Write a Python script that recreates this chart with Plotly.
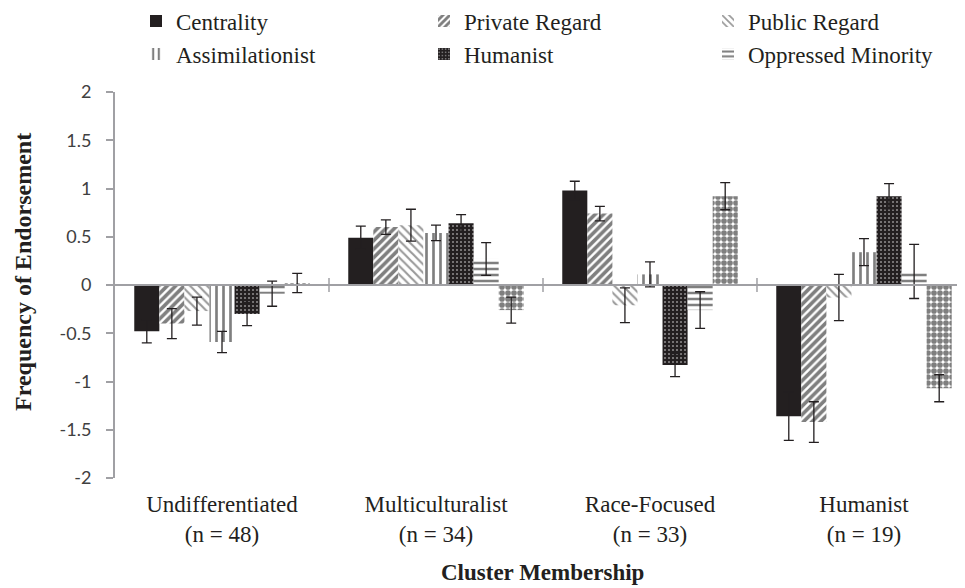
import plotly.graph_objects as go

# ---------------- data ----------------
categories = ["Undifferentiated<br>(n = 48)", "Multiculturalist<br>(n = 34)",
              "Race-Focused<br>(n = 33)", "Humanist<br>(n = 19)"]

centrality = [-0.48, 0.49, 0.98, -1.36]
centrality_err = [0.12, 0.12, 0.095, 0.25]
private_regard = [-0.40, 0.60, 0.74, -1.42]
private_regard_err = [0.155, 0.075, 0.075, 0.21]
public_regard = [-0.27, 0.62, -0.21, -0.13]
public_regard_err = [0.145, 0.165, 0.18, 0.24]
assimilationist = [-0.59, 0.54, 0.11, 0.34]
assimilationist_err = [0.11, 0.08, 0.13, 0.14]
humanist = [-0.30, 0.64, -0.83, 0.92]
humanist_err = [0.12, 0.09, 0.12, 0.13]
oppressed_minority = [-0.09, 0.27, -0.26, 0.14]
oppressed_minority_err = [0.13, 0.17, 0.19, 0.28]
nationalist = [0.02, -0.26, 0.92, -1.07]
nationalist_err = [0.10, 0.135, 0.14, 0.14]

y_tickvals = [-2, -1.5, -1, -0.5, 0, 0.5, 1, 1.5, 2]
y_ticktext = ["-2", "-1.5", "-1", "-0.5", "0", "0.5", "1", "1.5", "2"]

# ---------------- style ----------------
INK = "#231f20"
AXIS = "#a0a0a4"
SERIF = "Liberation Serif"

series = [
    ("Centrality", centrality, centrality_err,
     dict(shape="", fgcolor=INK, bgcolor=INK), "legend"),
    ("Private Regard", private_regard, private_regard_err,
     dict(shape="/", fgcolor="black", bgcolor="white", size=6, solidity=0.6), "legend2"),
    ("Public Regard", public_regard, public_regard_err,
     dict(shape="\\", fgcolor="#333333", bgcolor="white", size=6, solidity=0.35), "legend3"),
    ("Assimilationist", assimilationist, assimilationist_err,
     dict(shape="|", fgcolor="black", bgcolor="white", size=7, solidity=0.38), "legend4"),
    ("Humanist", humanist, humanist_err,
     dict(shape=".", fgcolor="white", bgcolor=INK, size=4, solidity=0.2), "legend5"),
    ("Oppressed Minority", oppressed_minority, oppressed_minority_err,
     dict(shape="-", fgcolor="black", bgcolor="white", size=6, solidity=0.42), "legend6"),
    ("Nationalist", nationalist, nationalist_err,
     dict(shape=".", fgcolor="black", bgcolor="white", size=6, solidity=0.7), None),
]

fig = go.Figure()
for name, vals, errs, pat, leg in series:
    fig.add_trace(go.Bar(
        x=categories, y=vals, name=name,
        marker=dict(color=pat["bgcolor"] if pat["shape"] else INK,
                    line=dict(width=0), pattern=pat),
        error_y=dict(type="data", array=errs, visible=True,
                     color=INK, thickness=1.3, width=5),
        showlegend=leg is not None,
        legend=leg if leg else "legend",
    ))

# The page body has an 8px default margin; lay the figure out in page pixels.
PAGE_OFF = 8
W, H = 965 - PAGE_OFF, 588 - PAGE_OFF
PLOT_L, PLOT_T, PLOT_B = 115, 92, 478          # page pixels
ML = PLOT_L - PAGE_OFF
MT = PLOT_T - PAGE_OFF
MB = H - (PLOT_B - PAGE_OFF)
PW = W - ML
PH = H - MT - MB

def px_x(px):
    return (px - PAGE_OFF - ML) / PW

def px_y(py):
    return (H - MB - (py - PAGE_OFF)) / PH

# legends: 3 columns x 2 rows, positioned in container coordinates
text_starts = [176, 464, 748]
row_centers = [21, 54]
legend_layouts = {}
for i, (name, vals, errs, pat, leg) in enumerate(series):
    if leg is None:
        continue
    r, c = divmod(i, 3)
    legend_layouts[leg] = dict(
        xref="container", yref="container",
        x=(text_starts[c] - PAGE_OFF - 40) / W, xanchor="left",
        y=1 - (row_centers[r] - PAGE_OFF) / H, yanchor="middle",
        bgcolor="rgba(0,0,0,0)", borderwidth=0,
        font=dict(family=SERIF, size=23, color=INK),
        itemwidth=30,
    )

# category boundary tick marks crossing the zero line
shapes = []
for i in range(len(categories) - 1):
    shapes.append(dict(type="line", xref="x", yref="y", x0=i + 0.5, x1=i + 0.5,
                       ysizemode="pixel", yanchor=0, y0=-7, y1=7,
                       line=dict(color=AXIS, width=1.5), layer="above"))
# zero line
shapes.append(dict(type="line", xref="paper", yref="y", x0=0, x1=1, y0=0, y1=0,
                   line=dict(color=AXIS, width=2), layer="above"))

fig.update_layout(
    width=W, height=H,
    margin=dict(l=ML, r=0, t=MT, b=MB, autoexpand=False),
    paper_bgcolor="white", plot_bgcolor="white",
    barmode="group", bargap=0.18, bargroupgap=0,
    shapes=shapes,
    xaxis=dict(type="category", range=[-0.5, 3.472], showline=False, ticks="",
               showgrid=False, zeroline=False, automargin=False,
               tickfont=dict(family=SERIF, size=23, color=INK),
               ticklabelstandoff=10),
    yaxis=dict(range=[-2, 2], tickvals=y_tickvals, ticktext=y_ticktext,
               showline=True, linecolor=AXIS, linewidth=2,
               ticks="outside", ticklen=7, tickcolor=AXIS, tickwidth=1.5,
               showgrid=False, zeroline=False, automargin=False,
               tickfont=dict(family="Lato", size=18, color="#404040"),
               ticklabelstandoff=11),
    annotations=[
        dict(text="<b>Frequency of Endorsement</b>", textangle=-90,
             xref="paper", yref="paper", x=px_x(23), y=px_y(272),
             xanchor="center", yanchor="middle", showarrow=False,
             font=dict(family=SERIF, size=24, color=INK)),
        dict(text="<b>Cluster Membership</b>",
             xref="paper", yref="paper", x=px_x(542), y=px_y(572),
             xanchor="center", yanchor="middle", showarrow=False,
             font=dict(family=SERIF, size=23, color=INK)),
    ],
    **legend_layouts,
)

fig.write_html("out.html")
